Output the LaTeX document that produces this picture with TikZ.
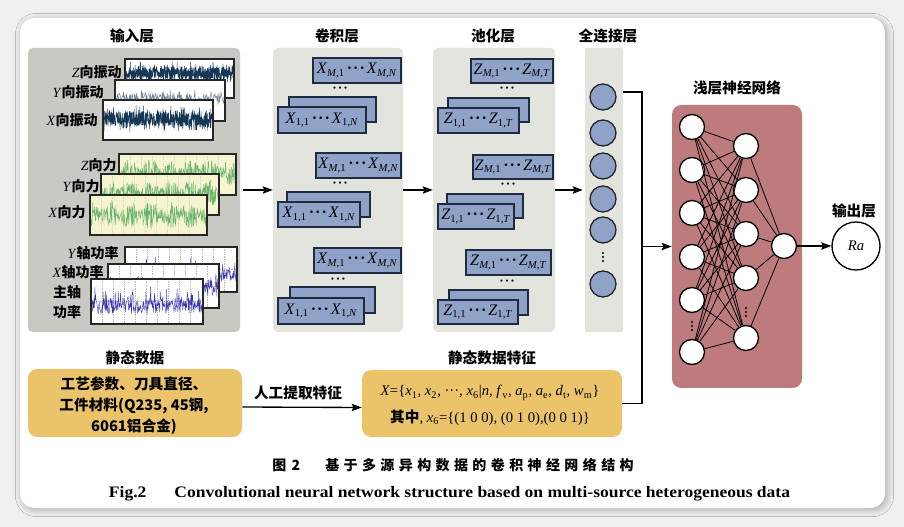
\documentclass[tikz,border=0pt]{standalone}
\usepackage{fontspec}
\usepackage{graphicx}
\setmainfont{Liberation Serif}
\newfontfamily\cjk{Noto Sans CJK SC}
\usetikzlibrary{arrows.meta,fit,shadows.blur}
\definecolor{outerbg}{HTML}{F0F0F0}
\definecolor{inpgray}{HTML}{C9C9C4}
\definecolor{lgray}{HTML}{E4E4DF}
\definecolor{bblue}{HTML}{8FA3C8}
\definecolor{bdark}{HTML}{1F2C40}
\definecolor{rose}{HTML}{BE7B7D}
\definecolor{gold}{HTML}{EAC36B}
\definecolor{vibc}{HTML}{173756}
\definecolor{forcefill}{HTML}{F6F5D0}
\definecolor{forcec}{HTML}{6DB56D}
\definecolor{powc}{HTML}{3A3AB0}
\definecolor{gridc}{HTML}{B8B8B8}
\newcommand\ch[1]{{\cjk\bfseries #1}}
\newcommand\sbs[1]{\textsubscript{#1}}
\newcommand\dts{{\bfseries\kern1.5pt·\kern0.8pt·\kern0.8pt·\kern1.5pt}}
% x1 x2 ymid amp seed color samples
\newcommand\vibsig[7]{\pgfmathsetseed{#5}\draw[#6, line width=0.35pt] plot[domain=#1:#2, samples=#7] (\x, {#3+#4*rand*(0.45+0.55*rnd^2)});}
% x1 x2 ymid amp seed
\newcommand\forcesig[5]{\pgfmathsetseed{#5}\draw[forcec, line width=0.35pt] plot[domain=#1:#2, samples=300] (\x, {#3+#4*rand*(0.3+0.7*abs(sin(\x*9)))});}
\newcommand\powsig[5]{\pgfmathsetseed{#5}\draw[powc, line width=0.3pt] plot[domain=#1:#2, samples=260] (\x, {#3+#4*rand-2.4*#4*rnd^6});}
% x1 y1 x2 y2
\newcommand\pgrid[4]{\foreach \i in {1,...,9}{\draw[gridc, line width=0.3pt, densely dotted] ({#1+\i*11},#2) -- ({#1+\i*11},#4);}\draw[gridc, line width=0.3pt, densely dotted] (#1,{(#2+#4)/2}) -- (#3,{(#2+#4)/2});}
\newcommand\fgrid[4]{\foreach \i in {1,...,9}{\draw[gridc!60, line width=0.3pt, densely dotted] ({#1+\i*11},#2) -- ({#1+\i*11},#4);}}
% x1 y1 x2 y2 fill content
\newcommand\sigbox[6]{\fill[#5] (#1,#2) rectangle (#3,#4);
  \begin{scope}\clip (#1,#2) rectangle (#3,#4); #6 \end{scope}
  \draw[frame] (#1,#2) rectangle (#3,#4);}
% vertical dots at x y
\newcommand\vdts[2]{\foreach \k in {-4,0,4}{\fill (#1,{#2+\k}) circle[radius=1.1];}}
\begin{document}
\begin{tikzpicture}[x=0.75pt,y=-0.75pt,
  frame/.style={draw=black!85, line width=1.1pt},
  panel/.style={fill=#1, draw=none, rounded corners=3.5pt, inner sep=0pt},
  title/.style={font=\fontsize{11pt}{13pt}\selectfont\cjk\bfseries, inner sep=0pt},
  lab/.style={font=\fontsize{10.5pt}{12pt}\selectfont, inner sep=0pt, anchor=east},
  bbox/.style={draw=bdark, fill=bblue, line width=1.1pt, inner sep=0pt},
  btext/.style={font=\fontsize{12pt}{14pt}\selectfont, inner sep=0pt},
  dotn/.style={font=\fontsize{10pt}{12pt}\selectfont, inner sep=0pt},
  fcn/.style={circle, draw=black!85, fill=bblue, line width=1pt, minimum size=19.5pt, inner sep=0pt},
  nnn/.style={circle, draw=black, fill=white, line width=1pt, minimum size=18.75pt, inner sep=0pt},
  conn/.style={line width=0.6pt, black},
  arr/.style={-{Stealth[length=7.5pt,width=5.5pt,inset=1.2pt]}, line width=1pt},
  line/.style={line width=1pt},
  goldbox/.style={fill=gold, draw=none, rounded corners=7pt, inner sep=0pt},
  gtext/.style={font=\fontsize{11pt}{15.75pt}\selectfont\cjk\bfseries, align=center, inner sep=0pt},
  ftext/.style={font=\fontsize{11pt}{13pt}\selectfont, inner sep=0pt}
]
\useasboundingbox (0,0) rectangle (904,527);
\fill[outerbg] (0,0) rectangle (904,527);
\fill[white, rounded corners=11pt, blur shadow={shadow xshift=1.5pt, shadow yshift=-1.5pt, shadow blur radius=5pt, shadow opacity=30}] (20,18) rectangle (885,508);

% ---------- panels ----------
\node[panel=inpgray, fit={(28,48) (240,332)}] (inp) {};
\node[panel=lgray, fit={(273,48) (403,332)}] (conv) {};
\node[panel=lgray, fit={(433,48) (555,332)}] (pool) {};
\node[panel=lgray, rounded corners=1pt, fit={(585,48) (623,332)}] (fc) {};
\node[title] (tinp) at (132,36) {输入层};
\node[title] (tconv) at (337,36) {卷积层};
\node[title] (tpool) at (493,36) {池化层};
\node[title] (tfc) at (608,36) {全连接层};

% ---------- input signals ----------
\sigbox{125}{59}{234}{98}{white}{\vibsig{125}{234}{73}{12}{11}{vibc}{650}}
\sigbox{115}{80}{225}{121}{white}{\vibsig{115}{225}{98}{9}{12}{vibc!60}{220}}
\sigbox{103}{100}{213}{140}{white}{\vibsig{103}{213}{119}{14}{13}{vibc}{650}}
\sigbox{119}{154}{236}{195}{forcefill}{\fgrid{119}{154}{236}{195}\forcesig{119}{236}{172}{13}{21}}
\sigbox{101}{174}{219}{215}{forcefill}{\fgrid{101}{174}{219}{215}\forcesig{101}{219}{193}{13}{22}}
\sigbox{90}{195}{207}{235}{forcefill}{\fgrid{90}{195}{207}{235}\forcesig{90}{207}{215}{14}{23}}
\sigbox{125}{247}{237}{292}{white}{\pgrid{125}{247}{237}{292}\powsig{125}{237}{276}{6}{31}}
\sigbox{108}{264}{219}{308}{white}{\pgrid{108}{264}{219}{308}\powsig{108}{219}{291}{6}{32}}
\sigbox{91}{279}{203}{324}{white}{\pgrid{91}{279}{203}{324}\powsig{91}{203}{307}{7}{33}}

\node[lab] (lvz) at (122,72) {\textit{Z}\ch{向振动}};
\node[lab] (lvy) at (104,92) {\textit{Y}\ch{向振动}};
\node[lab] (lvx) at (98,120) {\textit{X}\ch{向振动}};
\node[lab] (lfz) at (117,165) {\textit{Z}\ch{向力}};
\node[lab] (lfy) at (100,186) {\textit{Y}\ch{向力}};
\node[lab] (lfx) at (86,212) {\textit{X}\ch{向力}};
\node[lab] (lpy) at (119,253) {\textit{Y}\ch{轴功率}};
\node[lab] (lpx) at (104,272) {\textit{X}\ch{轴功率}};
\node[lab, anchor=center, align=center, font=\fontsize{10.5pt}{14.5pt}\selectfont] (lps) at (67,302) {\ch{主轴}\\\ch{功率}};

% ---------- conv boxes ----------
\newcommand\XM{\textit{X}\sbs{\textit{M},1}\dts\textit{X}\sbs{\textit{M},\textit{N}}}
\newcommand\XO{\textit{X}\sbs{1,1}\dts\textit{X}\sbs{1,\textit{N}}}
\newcommand\ZM{\textit{Z}\sbs{\textit{M},1}\dts\textit{Z}\sbs{\textit{M},\textit{T}}}
\newcommand\ZO{\textit{Z}\sbs{1,1}\dts\textit{Z}\sbs{1,\textit{T}}}

\node[bbox, fit={(313,58) (401,83)}] (c1t) {};
\node[btext] at (c1t.center) (c1tt) {\XM};
\node[dotn] (c1d) at (340,90) {\dts};
\node[bbox, fit={(289,97) (376,122)}] (c1b) {};
\node[bbox, fit={(278,107) (366,133)}] (c1f) {};
\node[btext] at (c1f.center) (c1ft) {\XO};

\node[bbox, fit={(316,153) (401,178)}] (c2t) {};
\node[btext] at (c2t.center) (c2tt) {\XM};
\node[dotn] (c2d) at (340,185) {\dts};
\node[bbox, fit={(287,192) (370,217)}] (c2b) {};
\node[bbox, fit={(278,202) (360,227)}] (c2f) {};
\node[btext] at (c2f.center) (c2ft) {\XO};

\node[bbox, fit={(314,248) (401,273)}] (c3t) {};
\node[btext] at (c3t.center) (c3tt) {\XM};
\node[dotn] (c3d) at (338,281) {\dts};
\node[bbox, fit={(290,287) (375,313)}] (c3b) {};
\node[bbox, fit={(278,298) (364,324)}] (c3f) {};
\node[btext] at (c3f.center) (c3ft) {\XO};

% ---------- pool boxes ----------
\node[bbox, fit={(471,59) (553,83)}] (p1t) {};
\node[btext] at (p1t.center) (p1tt) {\ZM};
\node[dotn] (p1d) at (507,90) {\dts};
\node[bbox, fit={(448,98) (529,122)}] (p1b) {};
\node[bbox, fit={(438,108) (519,133)}] (p1f) {};
\node[btext] at (p1f.center) (p1ft) {\ZO};

\node[bbox, fit={(473,155) (553,179)}] (p2t) {};
\node[btext] at (p2t.center) (p2tt) {\ZM};
\node[dotn] (p2d) at (508,186) {\dts};
\node[bbox, fit={(447,194) (523,218)}] (p2b) {};
\node[bbox, fit={(438,204) (514,229)}] (p2f) {};
\node[btext] at (p2f.center) (p2ft) {\ZO};

\node[bbox, fit={(466,250) (551,275)}] (p3t) {};
\node[btext] at (p3t.center) (p3tt) {\ZM};
\node[dotn] (p3d) at (507,283) {\dts};
\node[bbox, fit={(449,290) (528,315)}] (p3b) {};
\node[bbox, fit={(438,300) (518,324)}] (p3f) {};
\node[btext] at (p3f.center) (p3ft) {\ZO};

% ---------- FC ----------
\node[fcn] (f1) at (603,97) {};
\node[fcn] (f2) at (603,133) {};
\node[fcn] (f3) at (603,166) {};
\node[fcn] (f4) at (603,199) {};
\node[fcn] (f5) at (603,230) {};
\vdts{603}{257}
\node[fcn] (f6) at (603,284) {};

\draw[arr] ([xshift=2pt]inp.east) -- (conv.west);
\draw[arr] (conv.east) -- (pool.west);
\draw[arr] (pool.east) -- ([xshift=-1.5pt]fc.west);

% ---------- shallow NN ----------
\node[panel=rose, rounded corners=7pt, fit={(672,105) (802,388)}] (nn) {};
\node[title] (tnn) at (737,88) {浅层神经网络};
\foreach \n/\y in {1/127,2/170,3/213,4/257,5/300,6/352}{\node[nnn] (a\n) at (692,\y) {};}
\foreach \n/\y in {1/146,2/190,3/234,4/278,5/338}{\node[nnn] (b\n) at (746,\y) {};}
\node[nnn] (o) at (784,246) {};
\foreach \i in {1,...,6}{\foreach \j in {1,...,5}{\draw[conn] (a\i) -- (b\j);}}
\foreach \j in {1,...,5}{\draw[conn] (b\j) -- (o);}
\vdts{692}{326}
\vdts{746}{312}
\node[circle, draw=black, fill=white, line width=1pt, minimum size=36pt, inner sep=0pt, font=\fontsize{11pt}{13pt}\selectfont] (ra) at (856,246) {\textit{Ra}};
\node[title] (tout) at (854,211) {输出层};
\draw[arr] (o) -- (ra);

% ---------- static data ----------
\node[goldbox, fit={(28,369) (242,437)}] (sd) {};
\node[gtext] (sdt) at (134,406) {工艺参数、刀具直径、\\工件材料(Q235, 45钢,\\6061铝合金)};
\node[title] (tsd) at (135,358) {静态数据};
\node[goldbox, fit={(362,370) (622,437)}] (sf) {};
\node[title] (tsf) at (492,358) {静态数据特征};
\node[ftext] (sf1) at (490,393) {\textit{X}=\{\textit{x}\sbs{1}, \textit{x}\sbs{2}, ···, \textit{x}\sbs{6}|\textit{n}, \textit{f}\sbs{v}, \textit{a}\sbs{p}, \textit{a}\sbs{e}, \textit{d}\sbs{t}, \textit{w}\sbs{m}\}};
\node[ftext] (sf2) at (490,418) {\ch{其中}, \textit{x}\sbs{6}=\{(1 0 0), (0 1 0),(0 0 1)\}};
\draw[arr] ([yshift=-3pt]sd.east) -- ([yshift=-3pt]sf.west);
\node[title] (lman) at (298,393) {人工提取特征};

% ---------- bracket to NN ----------
\coordinate (jt) at (642,92);
\draw[line] (fc.east |- jt) -- (jt) -- (jt |- sf.east) -- (sf.east);
\draw[arr] (jt |- nn.west) -- (nn.west);

% ---------- captions ----------
\newcommand\spc[1]{\spcaux#1\relax}
\def\spcaux#1{\ifx#1\relax\else#1\kern3.3pt\expandafter\spcaux\fi}
\node[font=\fontsize{10.5pt}{12pt}\selectfont\cjk\bfseries, inner sep=0pt, anchor=west] (cap1a) at (272,465) {图\kern4pt 2};
\node[font=\fontsize{10.5pt}{12pt}\selectfont\cjk\bfseries, inner sep=0pt, anchor=west] (cap1b) at (325,465) {\spc{基于多源异构数据的卷积神经网络结构}};
\node[font=\fontsize{12pt}{14pt}\selectfont\bfseries, inner sep=0pt] (cap2) at (449.5,494) {\resizebox{510.75pt}{\height}{Fig.2\hspace{1.6em}Convolutional neural network structure based on multi-source heterogeneous data}};
\end{tikzpicture}
\end{document}
